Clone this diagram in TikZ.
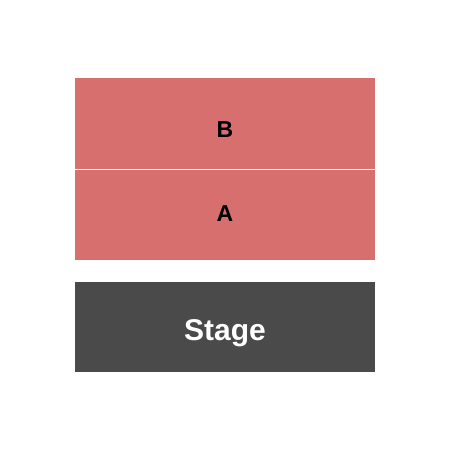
\documentclass[tikz,border=0pt]{standalone}
\usepackage{fontspec}
\setmainfont{Liberation Sans}
\usetikzlibrary{positioning}
\definecolor{seatred}{HTML}{D76F6E}
\definecolor{stagegrey}{HTML}{4A4A4A}
\tikzset{
  section/.style={fill=seatred, draw=none, minimum width=300pt, minimum height=91pt,
    inner sep=0pt},
  stagebox/.style={fill=stagegrey, draw=none, minimum width=300pt, minimum height=90pt,
    inner sep=0pt},
  seclabel/.style={font=\bfseries\fontsize{23}{23}\selectfont, text=black, inner sep=0pt},
  stagelabel/.style={font=\bfseries\fontsize{30}{30}\selectfont, text=white, inner sep=0pt}
}
\begin{document}
\begin{tikzpicture}[x=1pt,y=-1pt]
\useasboundingbox (0,0) rectangle (450,450);
\node[section] (B) at (225,123.5) {};
\node[section, minimum height=90pt] (A) at (225,215) {};
\draw[white, line width=1pt] (B.south west) -- (B.south east);
\node[stagebox] (stage) at (225,327) {};
\node[seclabel] (Blabel) at ([yshift=-6pt]B.center) {B};
\node[seclabel] (Alabel) at ([yshift=1pt]A.center) {A};
\node[stagelabel] (stagetext) at ([yshift=-6pt]stage.center) {Stage};
\end{tikzpicture}
\end{document}
